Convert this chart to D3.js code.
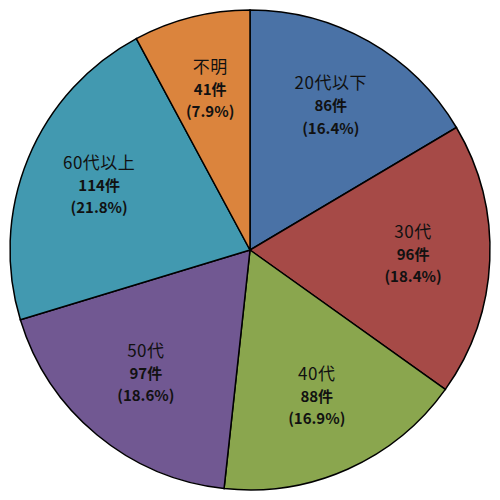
<!DOCTYPE html>
<html>
<head>
<meta charset="utf-8">
<script src="https://cdn.jsdelivr.net/npm/d3@7"></script>
<style>
  body { margin: 0; background: #fff; }
  text { font-family: "Noto Sans CJK JP", "DejaVu Sans", sans-serif; fill: #111; }
</style>
</head>
<body>
<div id="chart"></div>
<script>
const categories = ["20代以下", "30代", "40代", "50代", "60代以上", "不明"];
const counts = [86, 96, 88, 97, 114, 41];
const percents = ["16.4%", "18.4%", "16.9%", "18.6%", "21.8%", "7.9%"];
const colors = ["#4A72A6", "#A64A47", "#8AA64E", "#715892", "#4299B0", "#DB843D"];

const width = 500, height = 500;
const radius = 240;

const svg = d3.select("#chart").append("svg")
    .attr("width", width)
    .attr("height", height)
    .append("g")
    .attr("transform", `translate(${width / 2},${height / 2})`);

const data = categories.map((c, i) => ({name: c, count: counts[i], pct: percents[i], color: colors[i]}));

const pie = d3.pie().value(d => d.count).sort(null);
const arc = d3.arc().innerRadius(0).outerRadius(radius);
const labelArc = d3.arc().innerRadius(radius * 0.68).outerRadius(radius * 0.68);

const slices = svg.selectAll(".slice")
    .data(pie(data))
    .enter().append("g")
    .attr("class", "slice");

slices.append("path")
    .attr("d", arc)
    .attr("fill", d => d.data.color)
    .attr("stroke", "#000")
    .attr("stroke-width", 1.5);

// labels: name / count / percent
const labels = slices.append("text")
    .attr("transform", d => `translate(${labelArc.centroid(d)})`)
    .attr("text-anchor", "middle");

labels.append("tspan")
    .attr("x", 0).attr("dy", "-1.1em")
    .style("font-size", "17px")
    .style("letter-spacing", "0.5px")
    .text(d => d.data.name);

labels.append("tspan")
    .attr("x", 0).attr("dy", "1.45em")
    .style("font-size", "15px")
    .style("font-weight", "bold")
    .text(d => d.data.count + "件");

labels.append("tspan")
    .attr("x", 0).attr("dy", "1.5em")
    .style("font-size", "15px")
    .style("font-weight", "bold")
    .text(d => "(" + d.data.pct + ")");
</script>
</body>
</html>
